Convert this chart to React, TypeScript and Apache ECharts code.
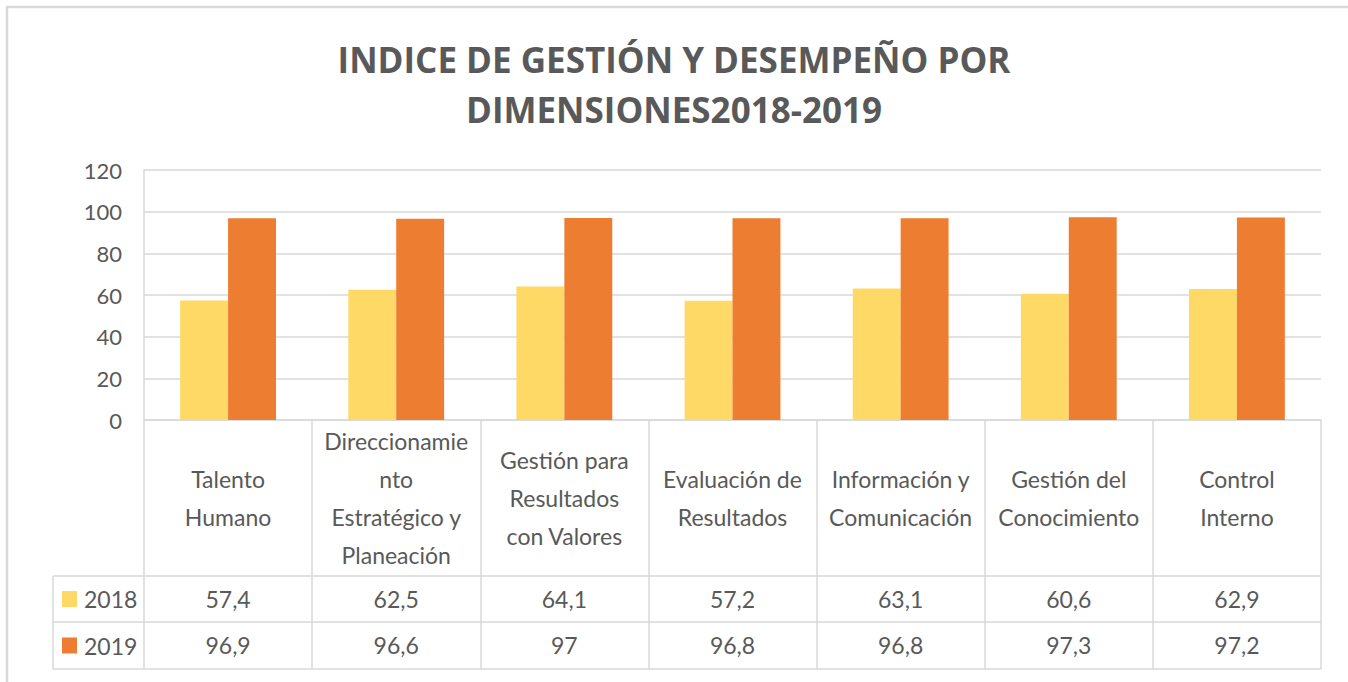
import React, { useEffect, useRef } from "react";
import * as echarts from "echarts";

const categories = [
  "Talento\nHumano",
  "Direccionamie\nnto\nEstratégico y\nPlaneación",
  "Gestión para\nResultados\ncon Valores",
  "Evaluación de\nResultados",
  "Información y\nComunicación",
  "Gestión del\nConocimiento",
  "Control\nInterno",
];
const seriesNames = ["2018", "2019"];
const values2018 = [57.4, 62.5, 64.1, 57.2, 63.1, 60.6, 62.9];
const values2019 = [96.9, 96.6, 97, 96.8, 96.8, 97.3, 97.2];
const yTicks = { min: 0, max: 120, interval: 20 };
const titleText = "INDICE DE GESTIÓN Y DESEMPEÑO POR\nDIMENSIONES2018-2019";

const COLORS = ["#FFD966", "#ED7D31"];
const TEXT = "#595959";
const LINE = "#d9d9d9";
const FONT = "Lato";

const fmt = (v: number) => String(v).replace(".", ",");

export default function App() {
  const ref = useRef<HTMLDivElement>(null);
  useEffect(() => {
    if (!ref.current) return;
    const chart = echarts.init(ref.current, undefined, { renderer: "svg" });
    const W = 1348;
    const H = 682;
    const gridLeft = 144;
    const gridRight = 27;
    const gridTop = 170;
    const gridBottom = 262;
    const axisY = H - gridBottom; // 420
    const row1 = axisY + 156; // 576
    const row2 = axisY + 202; // 622
    const row3 = axisY + 249; // 669
    const legendLeft = 53;
    const labelStyle = { color: TEXT, fontFamily: FONT, fontSize: 23 };

    const valueAxis = (offset: number, vals: number[]) => ({
      type: "category",
      data: categories,
      gridIndex: 0,
      position: "bottom",
      offset,
      axisLine: { show: true, lineStyle: { color: LINE, width: 1.5 } },
      axisTick: { show: false },
      splitLine: { show: false },
      axisLabel: {
        ...labelStyle,
        interval: 0,
        margin: 23,
        verticalAlign: "middle",
        formatter: (_v: string, i: number) => fmt(vals[i]),
      },
    });

    chart.setOption({
      animation: false,
      backgroundColor: "#ffffff",
      title: {
        text: titleText,
        left: "center",
        top: 29,
        textStyle: {
          color: TEXT,
          fontFamily: "Open Sans",
          fontWeight: "bold",
          fontSize: 35,
          lineHeight: 50,
        },
      },
      grid: { left: gridLeft, right: gridRight, top: gridTop, bottom: gridBottom, containLabel: false },
      xAxis: [
        {
          type: "category",
          data: categories,
          gridIndex: 0,
          position: "bottom",
          axisLine: { show: true, lineStyle: { color: LINE, width: 1.5 } },
          axisTick: { show: true, length: 249, lineStyle: { color: LINE, width: 1.5 } },
          axisLabel: {
            ...labelStyle,
            interval: 0,
            margin: 78,
            verticalAlign: "middle",
            lineHeight: 38,
          },
        },
        valueAxis(156, values2018),
        valueAxis(202, values2019),
      ],
      yAxis: {
        type: "value",
        min: yTicks.min,
        max: yTicks.max,
        interval: yTicks.interval,
        axisLine: { show: true, lineStyle: { color: LINE, width: 1.5 } },
        axisTick: { show: false },
        splitLine: { lineStyle: { color: LINE, width: 1.5 } },
        axisLabel: { color: TEXT, fontFamily: FONT, fontSize: 22, margin: 22 },
      },
      series: [
        {
          name: seriesNames[0],
          type: "bar",
          data: values2018,
          itemStyle: { color: COLORS[0] },
          barGap: "0%",
          barCategoryGap: "43%",
        },
        {
          name: seriesNames[1],
          type: "bar",
          data: values2019,
          itemStyle: { color: COLORS[1] },
          barGap: "0%",
          barCategoryGap: "43%",
        },
      ],
      graphic: [
        {
          type: "polyline",
          shape: { points: [[7, H], [7, 7], [W, 7]] },
          style: { stroke: LINE, lineWidth: 2.5, fill: null },
          silent: true,
        },
        {
          type: "line",
          shape: { x1: legendLeft, y1: row1, x2: gridLeft, y2: row1 },
          style: { stroke: LINE, lineWidth: 1.5 },
        },
        {
          type: "line",
          shape: { x1: legendLeft, y1: row2, x2: gridLeft, y2: row2 },
          style: { stroke: LINE, lineWidth: 1.5 },
        },
        {
          type: "line",
          shape: { x1: legendLeft, y1: row3, x2: W - gridRight, y2: row3 },
          style: { stroke: LINE, lineWidth: 1.5 },
        },
        {
          type: "line",
          shape: { x1: legendLeft, y1: row1, x2: legendLeft, y2: row3 },
          style: { stroke: LINE, lineWidth: 1.5 },
        },
        ...seriesNames.flatMap((name, i) => {
          const cy = i === 0 ? (row1 + row2) / 2 : (row2 + row3) / 2;
          return [
            {
              type: "rect",
              shape: { x: 62, y: cy - 8, width: 15, height: 16 },
              style: { fill: COLORS[i] },
            },
            {
              type: "text",
              x: 84,
              y: cy,
              style: {
                text: name,
                fill: TEXT,
                font: `23px ${FONT}`,
                textAlign: "left",
                textVerticalAlign: "middle",
              },
            },
          ];
        }),
      ],
    });
    return () => chart.dispose();
  }, []);
  return (
    <div
      ref={ref}
      style={{ position: "fixed", left: 0, top: 0, width: 1348, height: 682, background: "#fff" }}
    />
  );
}
